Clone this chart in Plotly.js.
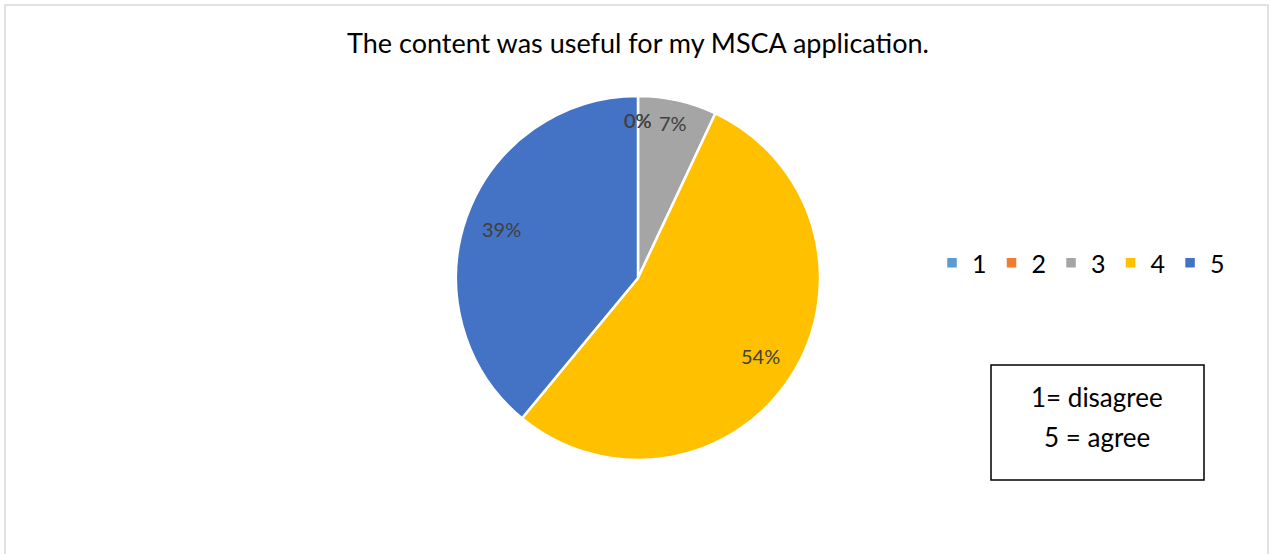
<!DOCTYPE html>
<html>
<head>
<meta charset="utf-8">
<script src="https://cdn.plot.ly/plotly-3.0.1.min.js"></script>
<style>
html,body{margin:0;padding:0;background:#fff;}
#chart{width:1270px;height:554px;}
</style>
</head>
<body>
<div id="chart"></div>
<script>
const categories = ['1', '2', '3', '4', '5'];
const shares = [0, 0, 7, 54, 39];
const colors = ['#5B9BD5', '#ED7D31', '#A5A5A5', '#FFC000', '#4472C4'];
const titleText = 'The content was useful for my MSCA application.';
const noteLines = ['1= disagree', '5 = agree'];

const W = 1270, H = 554;
const X = p => p / W;
const Y = p => 1 - p / H;
const FONT = 'Lato, "Open Sans", sans-serif';

// pie placement (pixels)
const PL = 456, PR = 820, PT = 96, PB = 460;
const CX = (PL + PR) / 2, CY = (PT + PB) / 2, RAD = (PR - PL) / 2;

const trace = {
  type: 'pie',
  labels: categories,
  values: shares,
  marker: {colors: colors, line: {color: '#ffffff', width: 2.5}},
  sort: false,
  direction: 'clockwise',
  rotation: 0,
  textinfo: 'none',
  hoverinfo: 'label+percent',
  domain: {x: [X(PL), X(PR)], y: [Y(PB), Y(PT)]}
};

// data labels placed along each slice's mid-angle (Excel-like best fit)
const total = shares.reduce((a, b) => a + b, 0);
const labelAnns = [];
let cum = 0;
shares.forEach((v, i) => {
  const frac = v / total;
  const mid = (cum + frac / 2) * 2 * Math.PI;
  cum += frac;
  const r = RAD * (frac < 0.1 ? 0.87 : 0.8);
  const px = CX + r * Math.sin(mid);
  const py = CY - r * Math.cos(mid);
  labelAnns.push({
    xref: 'paper', yref: 'paper', x: X(px), y: Y(py),
    text: Math.round(frac * 100) + '%', showarrow: false,
    xanchor: 'center', yanchor: 'middle',
    font: {family: FONT, size: 20, color: '#404040'}
  });
});

const layout = {
  width: W, height: H,
  margin: {l: 0, r: 0, t: 0, b: 0},
  paper_bgcolor: '#ffffff',
  font: {family: FONT, color: '#000000'},
  title: {
    text: titleText,
    font: {family: FONT, size: 27, color: '#000000'},
    x: X(638), y: Y(44), xanchor: 'center', yanchor: 'middle'
  },
  showlegend: true,
  legend: {
    orientation: 'h',
    x: X(932), y: Y(263), xanchor: 'left', yanchor: 'middle',
    font: {family: FONT, size: 25, color: '#000000'},
    itemwidth: 30,
    traceorder: 'normal'
  },
  shapes: [
    {type: 'rect', xref: 'paper', yref: 'paper', x0: X(5), x1: X(1268), y0: Y(600), y1: Y(5),
     line: {color: '#D9D9D9', width: 1.5}, fillcolor: 'rgba(0,0,0,0)'},
    {type: 'rect', xref: 'paper', yref: 'paper', x0: X(991), x1: X(1204), y0: Y(480), y1: Y(365),
     line: {color: '#000000', width: 1.5}, fillcolor: 'rgba(0,0,0,0)'}
  ],
  annotations: [
    {xref: 'paper', yref: 'paper', x: X(1097), y: Y(397), text: noteLines[0], showarrow: false,
     xanchor: 'center', yanchor: 'middle', font: {family: FONT, size: 26, color: '#000000'}},
    {xref: 'paper', yref: 'paper', x: X(1097), y: Y(437), text: noteLines[1], showarrow: false,
     xanchor: 'center', yanchor: 'middle', font: {family: FONT, size: 26, color: '#000000'}}
  ].concat(labelAnns)
};

Plotly.newPlot('chart', [trace], layout, {displayModeBar: false, staticPlot: true});
</script>
</body>
</html>
